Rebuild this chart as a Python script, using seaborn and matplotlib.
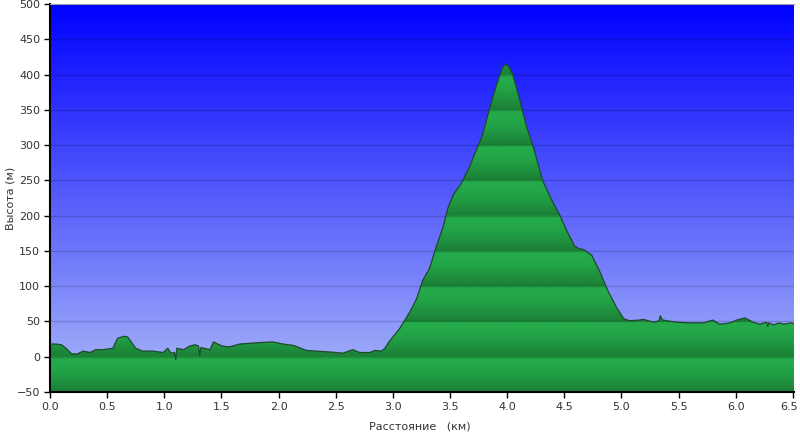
import numpy as np
import matplotlib
matplotlib.use("Agg")
import matplotlib.pyplot as plt
import matplotlib.transforms as mtransforms
import seaborn as sns

# профиль высоты: расстояние (км) и высота (м)
dist_km = [0.00, 0.05, 0.10, 0.14, 0.19, 0.24, 0.29, 0.35, 0.40, 0.46,
           0.55, 0.59, 0.65, 0.68, 0.75, 0.81, 0.90, 0.99, 1.03, 1.06,
           1.09, 1.10, 1.11, 1.17, 1.22, 1.27, 1.30, 1.31, 1.32, 1.40,
           1.43, 1.48, 1.51, 1.57, 1.66, 1.83, 1.95, 2.04, 2.13, 2.18,
           2.24, 2.33, 2.42, 2.51, 2.56, 2.65, 2.71, 2.80, 2.84, 2.90,
           2.93, 2.97, 3.06, 3.15, 3.21, 3.26, 3.32, 3.38, 3.44, 3.48,
           3.53, 3.60, 3.67, 3.73, 3.78, 3.85, 3.91, 3.96, 3.99, 4.02,
           4.05, 4.11, 4.17, 4.23, 4.31, 4.39, 4.46, 4.52, 4.59, 4.63,
           4.67, 4.74, 4.81, 4.88, 4.96, 5.02, 5.07, 5.16, 5.19, 5.28,
           5.33, 5.34, 5.36, 5.48, 5.60, 5.72, 5.80, 5.86, 5.95, 6.01,
           6.08, 6.15, 6.21, 6.27, 6.28, 6.29, 6.33, 6.38, 6.42, 6.48, 6.51]
elev_m = [18, 18, 17, 12, 4, 4, 8, 6, 10, 10,
          12, 26, 29, 28, 12, 8, 8, 6, 12, 5,
          6, -4, 12, 10, 15, 17, 15, 2, 13, 10,
          21, 17, 15, 14, 18, 20, 21, 18, 16, 13,
          9, 8, 7, 6, 5, 10, 6, 6, 9, 8,
          12, 22, 40, 64, 83, 108, 125, 156, 184, 210,
          230, 246, 269, 293, 312, 354, 387, 410, 415, 410,
          400, 364, 326, 297, 250, 222, 201, 179, 157, 153,
          152, 144, 121, 94, 69, 54, 51, 52, 53, 49,
          51, 58, 52, 49, 48, 48, 52, 46, 48, 52,
          55, 49, 46, 49, 43, 48, 45, 48, 46, 48, 47]

x_ticks = [0.0, 0.5, 1.0, 1.5, 2.0, 2.5, 3.0, 3.5, 4.0, 4.5, 5.0, 5.5, 6.0, 6.5]
y_ticks = list(range(-50, 501, 50))

sns.set_style("ticks")
plt.rcParams["font.family"] = ["DejaVu Sans"]

fig = plt.figure(figsize=(8, 4.32), dpi=100)
ax = fig.add_axes([0.0625, 0.0926, 0.93, 0.898])
xmin, xmax, ymin, ymax = 0, 6.51, -50, 500

# фон: градиент от синего к светло-голубому
t = np.linspace(0, 1, 256)[:, None]
top = np.array([0, 0, 255]) / 255
bot = np.array([172, 186, 248]) / 255
sky = (top + (bot - top) * t)[:, None, :].repeat(2, axis=1)
ax.imshow(sky, extent=[xmin, xmax, ymin, ymax], aspect="auto", origin="upper",
          zorder=0, interpolation="bilinear")

# зелёная заливка с полосами по 50 м
yy = np.linspace(ymax, ymin, 1100)
frac = ((ymax - yy) % 50) / 50.0
bright = np.array([36, 170, 74]) / 255
dark = np.array([27, 126, 54]) / 255
shade = np.clip((frac - 0.2) / 0.8, 0, 1) ** 1.3
green = (bright + (dark - bright) * shade[:, None])[:, None, :].repeat(2, axis=1)
poly = ax.fill_between(dist_km, elev_m, ymin, color="none", lw=0)
img = ax.imshow(green, extent=[xmin, xmax, ymin, ymax], aspect="auto",
                origin="upper", zorder=1, interpolation="bilinear")
path = poly.get_paths()[0]
img.set_clip_path(path, transform=ax.transData)

sns.lineplot(x=dist_km, y=elev_m, ax=ax, color="#1d4a2c", lw=0.9, zorder=3)

for v in y_ticks:
    ax.axhline(v, color="black", alpha=0.16, lw=1, zorder=2)

ax.set_xlim(xmin, xmax)
ax.set_ylim(ymin, ymax)
ax.set_xticks(x_ticks)
ax.set_xticklabels([f"{v:.1f}" for v in x_ticks])
ax.set_yticks(y_ticks)
ax.tick_params(direction="out", length=4, width=1, colors="black",
               labelsize=8, labelcolor="#333333", pad=3)
for s in ["left", "bottom"]:
    ax.spines[s].set_color("black")
    ax.spines[s].set_linewidth(1.5)
ax.spines["top"].set_color("#9aa0b0")
ax.spines["top"].set_linewidth(0.8)
ax.spines["right"].set_visible(False)

# последняя подпись оси X чуть левее, чтобы не обрезалась
last = ax.get_xticklabels()[-1]
last.set_transform(last.get_transform() +
                   mtransforms.ScaledTranslation(-4 / 100, 0, fig.dpi_scale_trans))

ax.set_xlabel("Расстояние   (км)", fontsize=8, color="#333333")
ax.set_ylabel("Высота (м)", fontsize=8, color="#333333")
ax.xaxis.set_label_coords(0.497, -0.075)
ax.yaxis.set_label_coords(-0.047, 0.5)

fig.savefig("out.png", dpi=100)
